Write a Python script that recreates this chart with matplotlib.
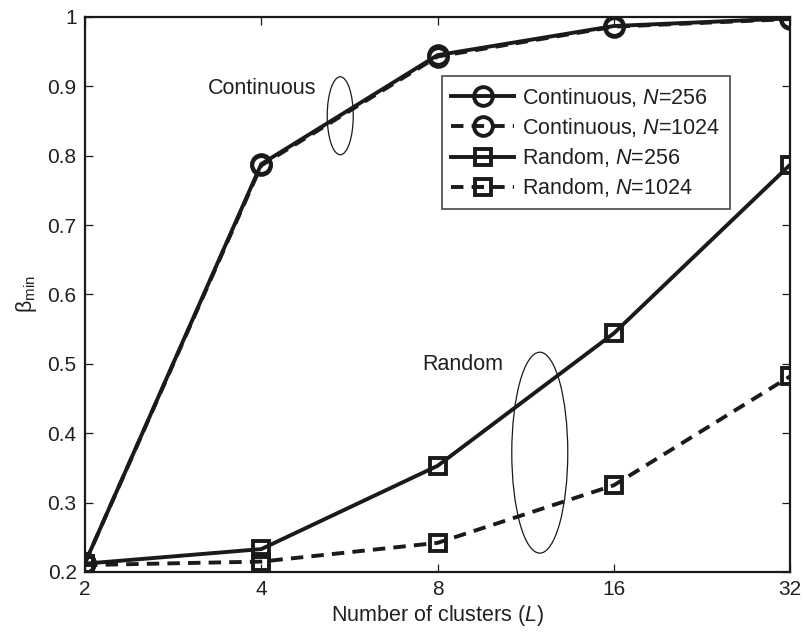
import matplotlib
matplotlib.use("Agg")
import matplotlib.pyplot as plt
from matplotlib.patches import Ellipse

plt.rcParams['font.family'] = ['Liberation Sans', 'DejaVu Sans']
plt.rcParams['mathtext.fontset'] = 'custom'
plt.rcParams['mathtext.rm'] = 'Liberation Sans'
plt.rcParams['mathtext.it'] = 'Liberation Sans:italic'

clusters = [2, 4, 8, 16, 32]
cont_256 = [0.213, 0.788, 0.945, 0.987, 0.998]
cont_1024 = [0.213, 0.786, 0.943, 0.986, 0.997]
rand_256 = [0.212, 0.233, 0.353, 0.544, 0.787]
rand_1024 = [0.210, 0.215, 0.242, 0.325, 0.482]
x_ticks = [2, 4, 8, 16, 32]
y_ticks = [0.2, 0.3, 0.4, 0.5, 0.6, 0.7, 0.8, 0.9, 1.0]
y_ticklabels = ['0.2', '0.3', '0.4', '0.5', '0.6', '0.7', '0.8', '0.9', '1']

ink = '#1a1a1a'
txt = '#231f20'
fs = 15.5
tfs = 15

fig = plt.figure(figsize=(8.04, 6.34), dpi=100)
ax = fig.add_axes([0.1057, 0.0978, 0.877, 0.8754])

lw = 2.8
common = dict(color=ink, linewidth=lw, markerfacecolor='none', markeredgecolor=ink,
              markeredgewidth=2.8)
ax.plot(clusters, cont_256, '-', marker='o', markersize=13.5, label='Continuous, $N$=256', **common)
ax.plot(clusters, cont_1024, '--', marker='o', markersize=13.5, dashes=(3.2, 2.1),
        label='Continuous, $N$=1024', **common)
ax.plot(clusters, rand_256, '-', marker='s', markersize=11.5, label='Random, $N$=256', **common)
ax.plot(clusters, rand_1024, '--', marker='s', markersize=11.5, dashes=(3.2, 2.1),
        label='Random, $N$=1024', **common)

ax.set_xscale('log', base=2)
ax.set_xlim(2, 32)
ax.set_ylim(0.2, 1.0)
ax.set_xticks(x_ticks)
ax.set_xticklabels([str(v) for v in x_ticks])
ax.minorticks_off()
ax.set_yticks(y_ticks)
ax.set_yticklabels(y_ticklabels)
ax.tick_params(direction='in', length=6, width=0.9, top=True, right=True,
               labelsize=tfs, colors=ink, labelcolor=txt, pad=6)
for s in ax.spines.values():
    s.set_linewidth(1.6)
    s.set_color(ink)

ax.set_xlabel('Number of clusters ($L$)', fontsize=fs, color=txt, labelpad=3)
ax.set_ylabel('β$_{\\rm min}$', fontsize=fs, color=txt, labelpad=6)

ax.add_patch(Ellipse((0.362, 0.822), 0.0369, 0.1405, transform=ax.transAxes,
                     fill=False, edgecolor=ink, linewidth=0.9))
ax.add_patch(Ellipse((0.645, 0.215), 0.0794, 0.362, transform=ax.transAxes,
                     fill=False, edgecolor=ink, linewidth=0.9))
ax.text(0.1745, 0.872, 'Continuous', transform=ax.transAxes, fontsize=fs,
        color=txt, ha='left', va='center')
ax.text(0.479, 0.373, 'Random', transform=ax.transAxes, fontsize=fs,
        color=txt, ha='left', va='center')

leg = ax.legend(loc='upper left', bbox_to_anchor=(0.506, 0.894), fontsize=fs,
                frameon=True, fancybox=False, edgecolor=ink, handlelength=2.9,
                handletextpad=0.4, labelspacing=0.34, borderpad=0.45,
                borderaxespad=0.0)
leg.get_frame().set_linewidth(1.2)
for t in leg.get_texts():
    t.set_color(txt)

fig.savefig('out.png', dpi=100)
